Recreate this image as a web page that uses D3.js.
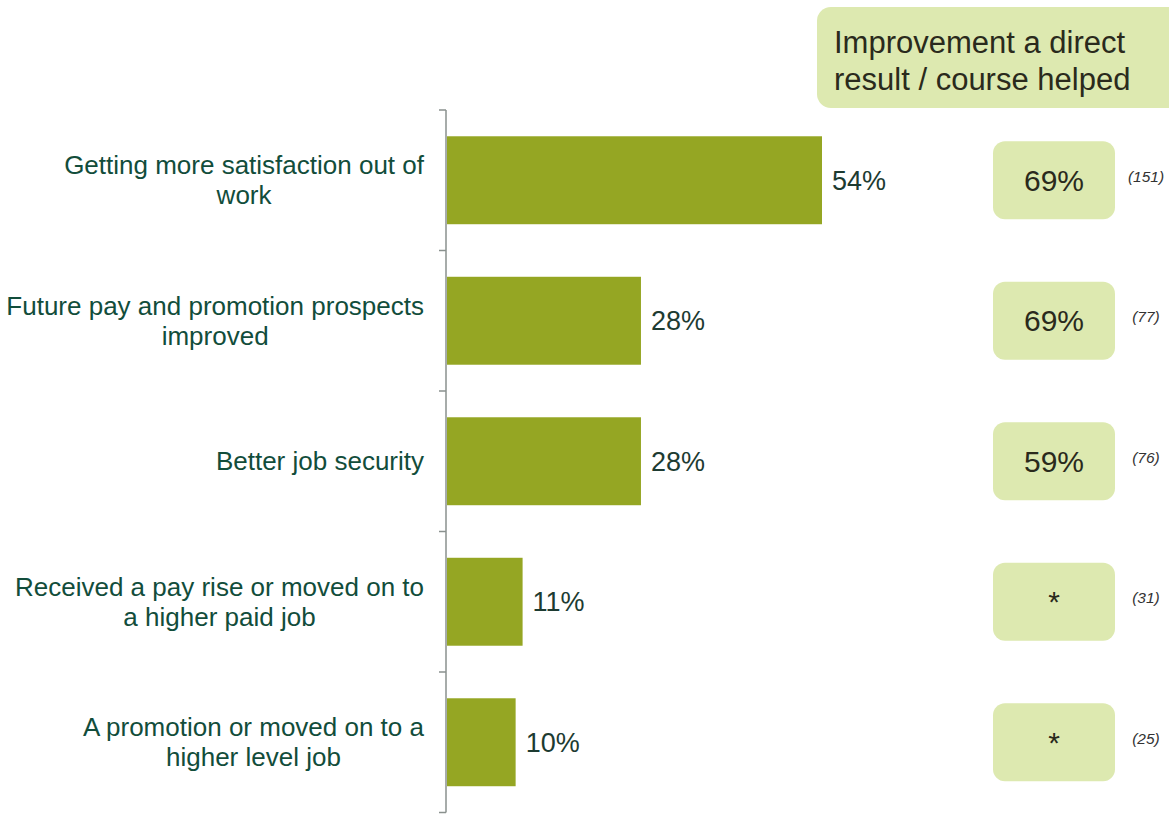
<!DOCTYPE html>
<html>
<head>
<meta charset="utf-8">
<script src="https://cdn.jsdelivr.net/npm/d3@7"></script>
<style>
  html, body { margin: 0; padding: 0; background: #ffffff; }
  svg { display: block; font-family: "Liberation Sans", Arial, sans-serif; }
</style>
</head>
<body>
<svg id="chart" width="1169" height="815"></svg>
<script>
// Improvements reported after the course
const categories = [
  ["Getting more satisfaction out of", "work"],
  ["Future pay and promotion prospects", "improved"],
  ["Better job security"],
  ["Received a pay rise or moved on to", "a higher paid job"],
  ["A promotion or moved on to a", "higher level job"]
];
const shares = [54, 28, 28, 11, 10];
const directResult = ["69%", "69%", "59%", "*", "*"];
const baseSizes = ["(151)", "(77)", "(76)", "(31)", "(25)"];
const headerLines = ["Improvement a direct", "result / course helped"];

const svg = d3.select("#chart");
const idx = d3.range(categories.length);

const axisX = 446;
const y = d3.scaleBand().domain(idx).range([110, 812.5]).paddingInner(0.374).paddingOuter(0.187);
const x = d3.scaleLinear().domain([0, 54]).range([axisX, 822]);

// bars
svg.append("g").selectAll("rect").data(idx).join("rect")
  .attr("x", x(0) + 1)
  .attr("y", i => y(i))
  .attr("width", i => x(shares[i]) - x(0) - 1)
  .attr("height", y.bandwidth())
  .attr("fill", "#95a623");

// category axis with ticks between bands
const axisG = svg.append("g");
axisG.append("line")
  .attr("x1", axisX).attr("x2", axisX)
  .attr("y1", 110).attr("y2", 812.5)
  .attr("stroke", "#8a918e").attr("stroke-width", 1.5);
const tickYs = idx.map(i => y(i) - y.step() * y.paddingInner() / 2).concat([812.5]);
tickYs[0] = 110;
axisG.selectAll("line.tick").data(tickYs).join("line")
  .attr("class", "tick")
  .attr("x1", axisX - 7).attr("x2", axisX)
  .attr("y1", d => d).attr("y2", d => d)
  .attr("stroke", "#8a918e").attr("stroke-width", 1.5);

// category labels: a right-aligned block, each line centred within it
const lineH = 30;
const labelRight = 424;
svg.append("g").selectAll("text").data(idx).join("text")
  .attr("font-size", 26)
  .attr("fill", "#124d3b")
  .each(function(i) {
    const lines = categories[i];
    const cy = y(i) + y.bandwidth() / 2;
    const top = cy - (lines.length - 1) * lineH / 2;
    const t = d3.select(this);
    const spans = t.selectAll("tspan").data(lines).join("tspan")
      .attr("y", (d, k) => top + k * lineH)
      .attr("dy", "0.35em")
      .text(d => d);
    let w = 0;
    spans.each(function() { w = Math.max(w, this.getComputedTextLength()); });
    spans.attr("x", labelRight - w / 2).attr("text-anchor", "middle");
  });

// value labels
svg.append("g").selectAll("text").data(idx).join("text")
  .attr("x", i => x(shares[i]) + 10)
  .attr("y", i => y(i) + y.bandwidth() / 2)
  .attr("dy", "0.35em")
  .attr("font-size", 27)
  .attr("fill", "#1d3b31")
  .text(i => shares[i] + "%");

// header box
const head = svg.append("g");
head.append("rect")
  .attr("x", 817).attr("y", 7).attr("width", 370).attr("height", 101)
  .attr("rx", 14).attr("fill", "#dde9b0");
head.selectAll("text").data(headerLines).join("text")
  .attr("x", 834)
  .attr("y", (d, k) => 42 + k * 37)
  .attr("dy", "0.35em")
  .attr("font-size", 31)
  .attr("fill", "#2a2a1c")
  .text(d => d);

// direct-result boxes
const boxW = 122, boxH = 78, boxX = 993;
const boxes = svg.append("g").selectAll("g").data(idx).join("g")
  .attr("transform", i => `translate(0,${y(i) + y.bandwidth() / 2})`);
boxes.append("rect")
  .attr("x", boxX).attr("y", -boxH / 2)
  .attr("width", boxW).attr("height", boxH)
  .attr("rx", 12).attr("fill", "#dde9b0");
boxes.append("text")
  .attr("x", boxX + boxW / 2)
  .attr("y", 0)
  .attr("dy", "0.35em")
  .attr("text-anchor", "middle")
  .attr("font-size", 30)
  .attr("fill", "#2a2a1c")
  .text(i => directResult[i]);
boxes.append("text")
  .attr("x", 1146)
  .attr("y", -4)
  .attr("dy", "0.35em")
  .attr("text-anchor", "middle")
  .attr("font-size", 15.5)
  .attr("font-style", "italic")
  .attr("fill", "#333333")
  .text(i => baseSizes[i]);
</script>
</body>
</html>
